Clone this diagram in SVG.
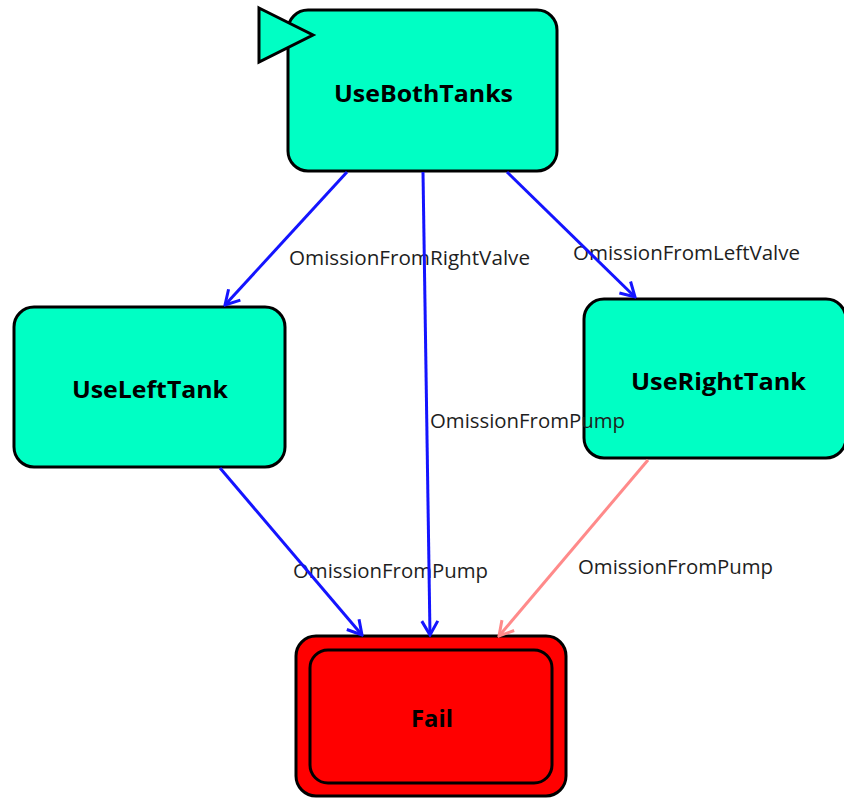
<svg xmlns="http://www.w3.org/2000/svg" width="844" height="798" viewBox="0 0 844 798">
  <style>
    .state { fill: #00ffc4; stroke: #000; stroke-width: 3; }
    .final { fill: #ff0000; stroke: #000; stroke-width: 3; }
    .name { font-family: "Open Sans", "Noto Sans", sans-serif; font-weight: bold; font-size: 24px; fill: #000; text-anchor: middle; dominant-baseline: central; }
    .edge { fill: none; stroke-width: 3; }
    .blue { stroke: #1414ff; }
    .pink { stroke: #ff8a8a; }
    .label { font-family: "Open Sans", "Noto Sans", sans-serif; font-size: 19.5px; fill: #1e1e1e; }
  </style>
  <defs>
    <marker id="arrowBlue" markerUnits="userSpaceOnUse" viewBox="-16 -10 18 20" refX="0" refY="0" markerWidth="18" markerHeight="20" orient="auto">
      <path d="M-14,-8 L0,0 L-14,8" fill="none" stroke="#1414ff" stroke-width="3"/>
    </marker>
    <marker id="arrowPink" markerUnits="userSpaceOnUse" viewBox="-16 -10 18 20" refX="0" refY="0" markerWidth="18" markerHeight="20" orient="auto">
      <path d="M-14,-8 L0,0 L-14,8" fill="none" stroke="#ff8a8a" stroke-width="3"/>
    </marker>
  </defs>

  <g id="UseBothTanks">
    <rect class="state" x="288" y="10" width="269" height="161" rx="20" ry="20"/>
    <polygon class="state" points="259,8 313,35 259,62"/>
    <text class="name" x="423.5" y="92" textLength="179" lengthAdjust="spacingAndGlyphs">UseBothTanks</text>
  </g>

  <g id="UseLeftTank">
    <rect class="state" x="14" y="307" width="271" height="160" rx="20" ry="20"/>
    <text class="name" x="150" y="388" textLength="156" lengthAdjust="spacingAndGlyphs">UseLeftTank</text>
  </g>

  <g id="UseRightTank">
    <rect class="state" x="584" y="299" width="262" height="159" rx="20" ry="20"/>
    <text class="name" x="718.5" y="380" textLength="175" lengthAdjust="spacingAndGlyphs">UseRightTank</text>
  </g>

  <g id="Fail">
    <rect class="final" x="296" y="636" width="270" height="160" rx="20" ry="20"/>
    <rect class="final" x="310" y="650" width="242" height="133" rx="18" ry="18"/>
    <text class="name" x="432" y="717" textLength="42" lengthAdjust="spacingAndGlyphs">Fail</text>
  </g>

  <!-- transition labels, painted above the states -->
  <g id="edge-labels">
    <text class="label" x="289" y="265" textLength="241" lengthAdjust="spacingAndGlyphs">OmissionFromRightValve</text>
    <text class="label" x="573" y="260" textLength="227" lengthAdjust="spacingAndGlyphs">OmissionFromLeftValve</text>
    <text class="label" x="430" y="428" textLength="195" lengthAdjust="spacingAndGlyphs">OmissionFromPump</text>
    <text class="label" x="293" y="578" textLength="195" lengthAdjust="spacingAndGlyphs">OmissionFromPump</text>
    <text class="label" x="578" y="574" textLength="195" lengthAdjust="spacingAndGlyphs">OmissionFromPump</text>
  </g>

  <!-- transitions -->
  <g id="connectors">
    <line class="edge blue" x1="347" y1="172" x2="225" y2="305" marker-end="url(#arrowBlue)"/>
    <line class="edge blue" x1="423" y1="172" x2="430" y2="635" marker-end="url(#arrowBlue)"/>
    <line class="edge blue" x1="507" y1="172" x2="635" y2="297" marker-end="url(#arrowBlue)"/>
    <line class="edge blue" x1="220" y1="468" x2="362" y2="635" marker-end="url(#arrowBlue)"/>
    <line class="edge pink" x1="648" y1="460" x2="499" y2="636" marker-end="url(#arrowPink)"/>
  </g>
</svg>
